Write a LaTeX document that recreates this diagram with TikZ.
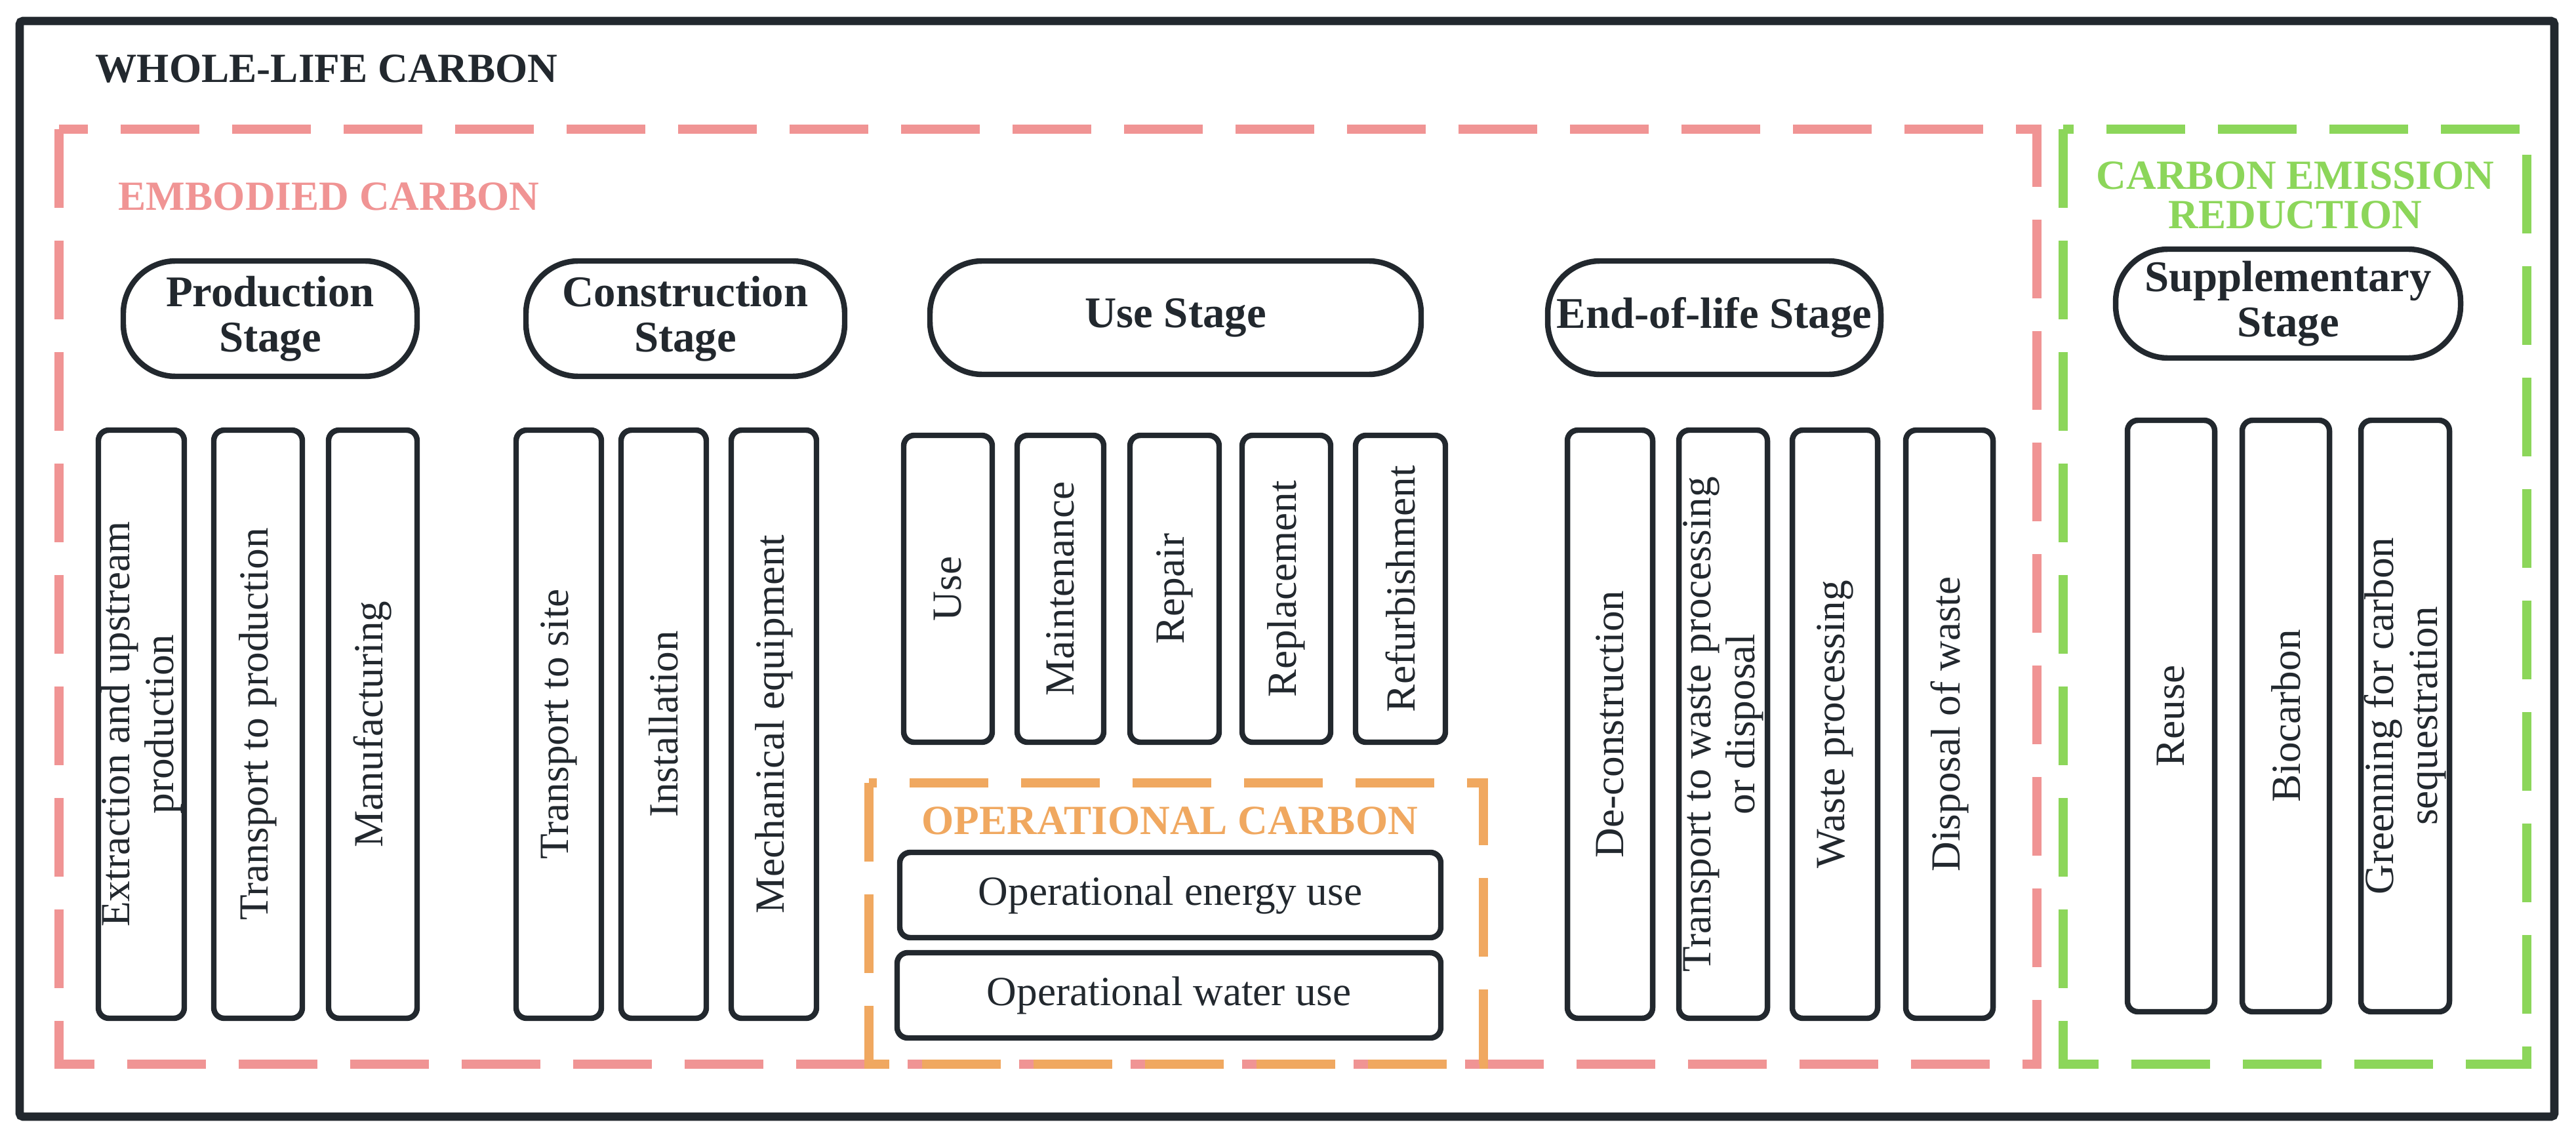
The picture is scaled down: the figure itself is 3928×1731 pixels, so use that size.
\documentclass[tikz,border=0pt]{standalone}
\usepackage{fontspec}
\setmainfont{Liberation Serif}
\begin{document}
\begin{tikzpicture}[x=0.1mm,y=-0.1mm,
  dk/.style={draw=dk, line width=2.4pt},
  bar/.style={dk, rounded corners=1.6mm, inner sep=0pt, align=center, font=\fontsize{18}{19}\selectfont, text=dk},
  pill/.style={dk, rounded corners=8mm, inner sep=0pt, align=center, font=\fontsize{19}{19.5}\selectfont\bfseries, text=dk},
  dsh/.style={line width=4.2pt, dash pattern=on 12mm off 5mm},
  ttl/.style={font=\fontsize{18}{19}\selectfont\bfseries, anchor=west, inner sep=0pt}]
\definecolor{dk}{HTML}{22282E}
\definecolor{pk}{HTML}{F09494}
\definecolor{gr}{HTML}{8CD65A}
\definecolor{og}{HTML}{F0A860}
\newcommand\bx[7][rotate=90]{%
 \pgfmathsetmacro\cx{(#3+#4)/2}\pgfmathsetmacro\cy{(#5+#6)/2}%
 \pgfmathsetmacro\ww{(#4-#3)/10}\pgfmathsetmacro\hh{(#6-#5)/10}%
 \ifx\relax#1\relax
 \node[bar, minimum width=\ww mm, minimum height=\hh mm] (#2) at (\cx,\cy) {#7};
 \else
 \node[bar, #1, minimum width=\hh mm, minimum height=\ww mm] (#2) at (\cx,\cy) {#7};
 \fi}
\newcommand\pl[6]{%
 \pgfmathsetmacro\cx{(#2+#3)/2}\pgfmathsetmacro\cy{(#4+#5)/2}%
 \pgfmathsetmacro\ww{(#3-#2)/10}\pgfmathsetmacro\hh{(#5-#4)/10}%
 \node[pill, minimum width=\ww mm, minimum height=\hh mm] (#1) at (\cx,\cy) {#6};}
\useasboundingbox (0,0) rectangle (3928,1731);
\fill[white] (0,0) rectangle (3928,1731);
\draw[draw=dk, line width=3.6pt, rounded corners=0.5mm] (30,32) rectangle (3895,1703);
\node[ttl, text=dk] (wlc) at (145,105) {WHOLE-LIFE CARBON};
\draw[dsh, draw=pk] (90,197) rectangle (3106,1623);
\node[ttl, text=pk] (emb) at (180,300) {EMBODIED CARBON};
\draw[dsh, draw=gr] (3146,197) rectangle (3853,1623);
\node[font=\fontsize{18}{17}\selectfont\bfseries, text=gr, align=center] (cer) at (3500,298) {CARBON EMISSION\\REDUCTION};
\draw[dsh, draw=og] (1325,1194) rectangle (2262,1623);
\node[ttl, text=og] (opc) at (1405,1252) {OPERATIONAL CARBON};
\pl{ps}{188}{636}{398}{574}{Production\\Stage}
\pl{cs}{802}{1288}{398}{574}{Construction\\Stage}
\pl{us}{1418}{2167}{398}{571}{Use Stage}
\pl{es}{2360}{2868}{398}{571}{End-of-life Stage}
\pl{ss}{3226}{3752}{380}{546}{Supplementary\\Stage}
\bx{b1}{150}{281}{656}{1553}{Extraction and upstream\\production}
\bx{b2}{326}{461}{656}{1553}{Transport to production}
\bx{b3}{501}{636}{656}{1553}{Manufacturing}
\bx{c1}{787}{917}{656}{1553}{Transport to site}
\bx{c2}{947}{1077}{656}{1553}{Installation}
\bx{c3}{1115}{1245}{656}{1553}{Mechanical equipment}
\bx{u1}{1378}{1513}{664}{1132}{Use}
\bx{u2}{1551}{1683}{664}{1132}{Maintenance}
\bx{u3}{1723}{1859}{664}{1132}{Repair}
\bx{u4}{1894}{2029}{664}{1132}{Replacement}
\bx{u5}{2067}{2204}{664}{1132}{Refurbishment}
\bx[]{o1}{1372}{2197}{1300}{1430}{Operational energy use}
\bx[]{o2}{1368}{2197}{1453}{1583}{Operational water use}
\bx{e1}{2390}{2520}{656}{1553}{De-construction}
\bx{e2}{2560}{2695}{656}{1553}{Transport to waste processing\\or disposal}
\bx{e3}{2733}{2863}{656}{1553}{Waste processing}
\bx{e4}{2906}{3039}{656}{1553}{Disposal of waste}
\bx{s1}{3244}{3377}{641}{1543}{Reuse}
\bx{s2}{3419}{3552}{641}{1543}{Biocarbon}
\bx{s3}{3600}{3735}{641}{1543}{Greenning for carbon\\sequestration}
\end{tikzpicture}
\end{document}
